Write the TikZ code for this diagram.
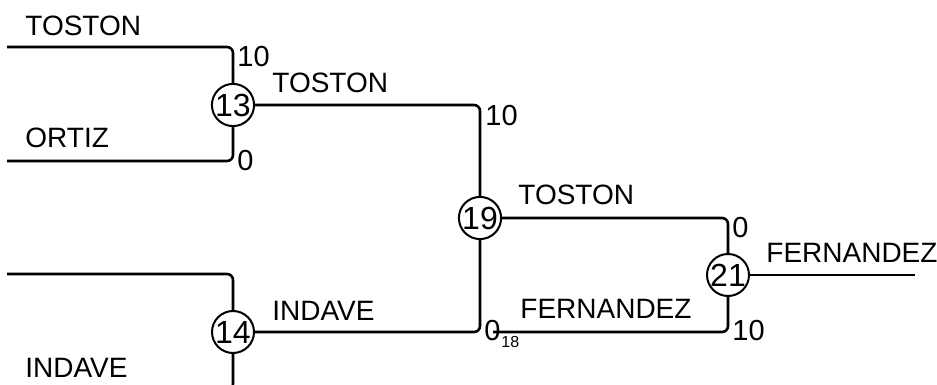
\documentclass[tikz,border=0pt]{standalone}
\usepackage{fontspec}
\setmainfont{Liberation Sans}
\usetikzlibrary{positioning}

\begin{document}
\begin{tikzpicture}[
    x=0.5pt, y=-0.5pt,
    matchnode/.style={
      draw,
      circle,
      line width=1pt,
      inner sep=0pt,
      minimum size=21pt,
      font=\fontsize{16}{16}\selectfont
    },
    bline/.style={
      line width=1.3pt,
      rounded corners=3pt
    },
    pname/.style={
      anchor=base west,
      inner sep=0pt,
      font=\fontsize{14}{14}\selectfont
    },
    pscore/.style={
      anchor=base west,
      inner sep=0pt,
      font=\fontsize{14.5}{14.5}\selectfont
    },
    mnum/.style={
      anchor=base west,
      inner sep=0pt,
      font=\fontsize{8}{8}\selectfont
    }
  ]
  \useasboundingbox (0,0) rectangle (937,385);
  \clip (0,0) rectangle (937,385);

  % matches
  \node[matchnode] (m13) at (233,105) {13};
  \node[matchnode] (m14) at (233,332) {14};
  \node[matchnode] (m19) at (480,218) {19};
  \node[matchnode] (m21) at (728,275) {21};

  % free line ends
  \coordinate (in1) at (7,47);
  \coordinate (in2) at (7,161);
  \coordinate (in3) at (7,274);
  \coordinate (in4) at (7,390);
  \coordinate (in18) at (493,332);
  \coordinate (win) at (915,275);

  % first round
  \draw[bline] (in1) -| (m13.north);
  \draw[bline] (in2) -| (m13.south);
  \draw[bline] (in3) -| (m14.north);
  \draw[bline] (in4) -| (m14.south);

  % later rounds
  \draw[bline] (m13.east) -| (m19.north);
  \draw[bline] (m14.east) -| (m19.south);
  \draw[bline] (m19.east) -| (m21.north);
  \draw[bline] (in18) -| (m21.south);
  \draw[bline] (m21.east) -- (win);

  % names
  \node[pname] (n1) at (25,36) {TOSTON};
  \node[pname] (n2) at (25,148) {ORTIZ};
  \node[pname] (n4) at (25,377) {INDAVE};
  \node[pname] (n13) at (272,93) {TOSTON};
  \node[pname] (n14) at (272,320) {INDAVE};
  \node[pname] (n19) at (518,205) {TOSTON};
  \node[pname] (n18) at (520,318) {FERNANDEZ};
  \node[pname] (n21) at (766,262) {FERNANDEZ};

  % scores
  \node[pscore] (s1) at (237,67) {10};
  \node[pscore] (s2) at (237,170) {0};
  \node[pscore] (s13) at (485,126) {10};
  \node[pscore] (s14) at (484,340) {0};
  \node[mnum] (k18) at (501,347) {18};
  \node[pscore] (s19) at (732,237) {0};
  \node[pscore] (s18) at (732,340) {10};

\end{tikzpicture}
\end{document}
